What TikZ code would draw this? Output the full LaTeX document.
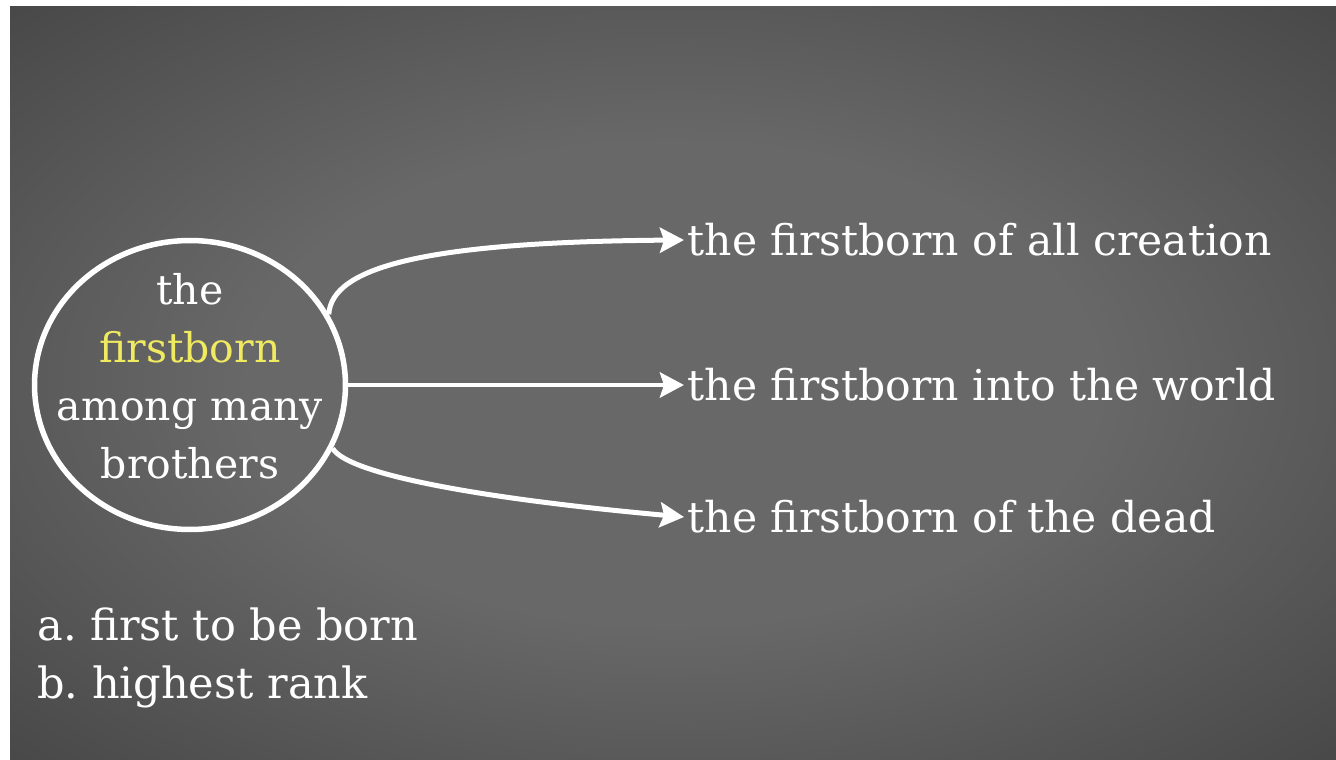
\documentclass[tikz,border=0pt]{standalone}
\usepackage{fontspec}
\setmainfont{DejaVu Serif}
\usepackage{tikz}
\usetikzlibrary{arrows.meta,shapes.geometric}
\definecolor{boardmid}{RGB}{104,104,104}
\definecolor{boardedge}{RGB}{68,68,68}
\definecolor{boardcorner}{RGB}{32,32,32}
\definecolor{chalkyellow}{RGB}{240,234,96}
\pgfdeclareradialshading{board}{\pgfpoint{0bp}{0bp}}{color(0bp)=(boardmid); color(16bp)=(boardmid); color(38bp)=(boardedge); color(50bp)=(boardcorner)}
\tikzstyle{hub}=[ellipse,draw=white,line width=0.11cm,minimum width=6.22cm,minimum height=5.78cm,inner sep=0pt]
\tikzstyle{hubtext}=[align=center,text=white,inner sep=0pt,font=\fontsize{23.3}{33}\selectfont]
\tikzstyle{lbl}=[anchor=west,inner sep=2pt,text=white,font=\fontsize{24.2}{30}\selectfont]
\tikzstyle{note}=[anchor=base west,inner sep=0pt,align=left,text=white,font=\fontsize{24.5}{33}\selectfont]
\tikzstyle{arr}=[-{Stealth[length=0.48cm,width=0.5cm,inset=0.08cm]},draw=white,line width=0.1cm]

\begin{document}
\frenchspacing
\begin{tikzpicture}[x=0.02cm,y=-0.02cm]
    \useasboundingbox (0,0) rectangle (1336,760);
    % board
    \fill[white] (0,0) rectangle (1336,760);
    \shade[shading=board] (10,7) rectangle (1336,760);
    \node[hub,label={[hubtext,yshift=0.17cm]center:the\\\textcolor{chalkyellow}{firstborn}\\among many\\brothers}] (fb) at (190,385) {};
    \node[lbl] (creation) at (684,240) {the firstborn of all creation};
    \node[lbl] (world) at (684,385) {the firstborn into the world};
    \node[lbl] (dead) at (684,517) {the firstborn of the dead};
    \node[note] (senses) at (37,698) {a. first to be born\\b. highest rank};
    % three senses
    \draw[arr] (fb.27) .. controls +(3,-47) and +(-260,2) .. (creation.west);
    \draw[arr] (fb.east) -- (world.west);
    \draw[arr] (fb.-24) .. controls +(15,25) and +(-210,-19) .. (dead.west);
\end{tikzpicture}
\end{document}
